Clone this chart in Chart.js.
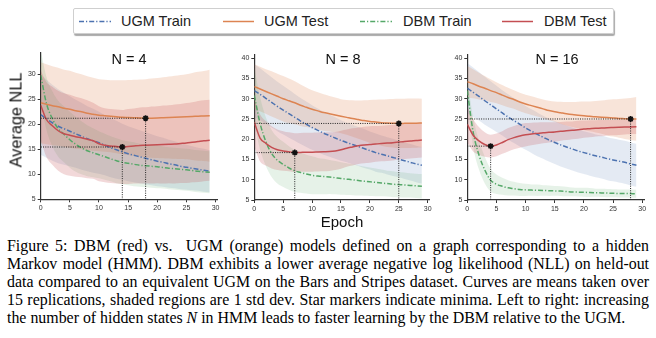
<!DOCTYPE html>
<html>
<head>
<meta charset="utf-8">
<script src="https://cdn.jsdelivr.net/npm/chart.js@4.4.0/dist/chart.umd.min.js"></script>
<style>
  body { margin: 0; width: 656px; height: 338px; background: #fff; position: relative; overflow: hidden; font-family: 'Liberation Sans', Arial, sans-serif; }
  canvas { position: absolute; }
  .legend { position: absolute; left: 73px; top: 8px; width: 539px; height: 24px; border: 1px solid #cfcfcf; border-radius: 2px; box-shadow: 1px 2px 1px #a9a9a9; }
  .lg { position: absolute; top: 0; height: 24px; line-height: 24px; font-size: 14.5px; color: #222; white-space: nowrap; }
  .sw { position: absolute; top: 11px; }
  .ttl { position: absolute; width: 100px; text-align: center; font-size: 14.5px; color: #111; top: 51px; }
  .axt { position: absolute; color: #111; white-space: nowrap; }
  .cap { position: absolute; left: 7px; width: 642px; font-family: 'Liberation Serif', 'Times New Roman', serif; font-size: 15.9px; color: #000; }
  .cap div { height: 18px; line-height: 18px; text-align: justify; text-align-last: justify; }
  .cap div.last { text-align-last: left; white-space: nowrap; }
</style>
</head>
<body>

<div class="legend">
  <svg class="sw" style="left:5px" width="32" height="3"><line x1="0" y1="1.5" x2="32" y2="1.5" stroke="#4c72b0" stroke-width="1.5" stroke-dasharray="5 2 1.2 2"/></svg>
  <span class="lg" style="left:47px">UGM Train</span>
  <svg class="sw" style="left:149px" width="31" height="3"><line x1="0" y1="1.5" x2="31" y2="1.5" stroke="#dd8452" stroke-width="1.5"/></svg>
  <span class="lg" style="left:190px">UGM Test</span>
  <svg class="sw" style="left:286px" width="32" height="3"><line x1="0" y1="1.5" x2="32" y2="1.5" stroke="#55a868" stroke-width="1.5" stroke-dasharray="5 2 1.2 2"/></svg>
  <span class="lg" style="left:329px">DBM Train</span>
  <svg class="sw" style="left:428px" width="31" height="3"><line x1="0" y1="1.5" x2="31" y2="1.5" stroke="#c44e52" stroke-width="1.5"/></svg>
  <span class="lg" style="left:470px">DBM Test</span>
</div>

<canvas id="c4" width="225" height="180" style="left:0;top:40px"></canvas>
<canvas id="c8" width="220" height="180" style="left:215px;top:40px"></canvas>
<canvas id="c16" width="220" height="180" style="left:430px;top:40px"></canvas>

<div class="ttl" style="left:79px">N = 4</div>
<div class="ttl" style="left:293px">N = 8</div>
<div class="ttl" style="left:507px">N = 16</div>

<div class="axt" style="left:15.5px;top:120px;font-size:16.3px;transform:translate(-50%,-50%) rotate(-90deg)">Average NLL</div>
<div class="axt" style="left:342px;top:221px;font-size:15px;transform:translate(-50%,-50%)">Epoch</div>

<div class="cap" style="top:237px">
  <div>Figure 5: DBM (red) vs.&nbsp; UGM (orange) models defined on a graph corresponding to a hidden</div>
  <div>Markov model (HMM). DBM exhibits a lower average negative log likelihood (NLL) on held-out</div>
  <div>data compared to an equivalent UGM on the Bars and Stripes dataset. Curves are means taken over</div>
  <div>15 replications, shaded regions are 1 std dev. Star markers indicate minima. Left to right: increasing</div>
  <div class="last">the number of hidden states <i>N</i> in HMM leads to faster learning by the DBM relative to the UGM.</div>
</div>

<script>
const epochs = [0,1,2,3,4,5,6,7,8,9,10,11,12,13,14,15,16,17,18,19,20,21,22,23,24,25,26,27,28,29];
const xTicks = [0,5,10,15,20,25,30];
const yTicksN4 = [5,10,15,20,25,30];
const yTicksWide = [5,10,15,20,25,30,35,40];

// N = 4
const n4UgmTrain = [21.9,21.1,20.3,19.6,19.1,18.6,18.1,17.6,17.1,16.7,16.3,15.8,15.3,14.9,14.5,14.1,13.8,13.5,13.2,12.9,12.6,12.4,12.1,11.9,11.6,11.4,11.2,11.0,10.8,10.6];
const n4UgmTrainStd = [8.0,7.8,7.6,7.4,7.2,7.0,6.8,6.7,6.5,6.4,6.2,6.0,5.9,5.8,5.6,5.5,5.4,5.3,5.2,5.1,5.0,4.9,4.8,4.7,4.6,4.5,4.4,4.3,4.3,4.2];
const n4UgmTest = [24.3,24.0,23.7,23.5,23.2,23.0,22.7,22.5,22.2,22.0,21.8,21.7,21.6,21.5,21.4,21.35,21.3,21.25,21.2,21.22,21.25,21.3,21.35,21.4,21.45,21.5,21.55,21.6,21.65,21.7];
const n4UgmTestStd = [8.1,8.0,7.9,7.8,7.7,7.7,7.6,7.5,7.4,7.3,7.2,7.2,7.2,7.3,7.4,7.5,7.6,7.7,7.8,7.9,8.0,8.1,8.2,8.3,8.4,8.5,8.7,8.9,9.0,9.2];
const n4DbmTrain = [29.8,24.1,21.1,19.1,18.0,16.9,16.0,15.3,14.7,14.3,13.9,13.5,13.1,12.7,12.4,12.2,12.0,11.8,11.7,11.6,11.5,11.35,11.2,11.1,11.0,10.9,10.75,10.6,10.5,10.4];
const n4DbmTrainStd = [5.0,5.3,5.5,5.6,5.6,5.6,5.5,5.3,5.1,4.9,4.7,4.6,4.5,4.5,4.4,4.4,4.4,4.3,4.3,4.3,4.3,4.2,4.2,4.2,4.2,4.2,4.2,4.2,4.2,4.2];
const n4DbmTest = [23.8,20.9,19.7,18.7,18.1,17.8,17.5,17.3,17.0,16.7,16.1,15.8,15.65,15.55,15.45,15.55,15.65,15.75,15.8,15.85,15.9,15.95,16.0,16.05,16.15,16.25,16.4,16.55,16.7,16.8];
const n4DbmTestStd = [7.0,7.5,7.8,8.0,8.1,8.1,8.0,7.9,7.8,7.6,7.5,7.4,7.4,7.4,7.4,7.5,7.5,7.6,7.6,7.7,7.7,7.8,7.8,7.9,7.9,8.0,8.0,8.1,8.1,8.1];

// N = 8
const n8UgmTrain = [32.0,31.1,30.1,29.1,28.1,27.2,26.3,25.4,24.5,23.7,22.9,22.2,21.5,20.9,20.3,19.7,19.2,18.7,18.2,17.7,17.2,16.7,16.3,15.9,15.5,15.1,14.7,14.3,13.9,13.6];
const n8UgmTrainStd = [6.5,6.4,6.3,6.2,6.1,6.0,5.9,5.8,5.7,5.6,5.5,5.4,5.3,5.2,5.1,5.0,4.9,4.9,4.8,4.8,4.7,4.7,4.6,4.6,4.6,4.5,4.5,4.5,4.5,4.5];
const n8UgmTest = [33.0,32.4,31.8,31.2,30.6,30.0,29.5,29.0,28.4,27.9,27.4,27.0,26.6,26.3,26.0,25.7,25.4,25.1,24.85,24.6,24.4,24.25,24.1,24.0,23.95,23.9,23.92,23.95,23.97,24.0];
const n8UgmTestStd = [5.5,5.5,5.5,5.6,5.6,5.6,5.5,5.3,5.1,4.9,4.7,4.6,4.5,4.4,4.3,4.2,4.3,4.5,4.7,5.0,5.3,5.5,5.7,5.9,6.0,6.1,6.1,6.1,6.1,6.0];
const n8DbmTrain = [30.8,23.9,19.4,16.5,14.8,13.8,12.9,12.2,11.8,11.4,11.1,10.9,10.8,10.7,10.5,10.3,10.15,10.0,9.8,9.65,9.5,9.35,9.2,9.05,8.9,8.8,8.7,8.6,8.5,8.4];
const n8DbmTrainStd = [7.0,6.5,6.0,5.8,5.7,5.6,5.4,5.2,5.0,4.8,4.7,4.5,4.4,4.2,4.1,4.0,3.9,3.8,3.7,3.6,3.5,3.4,3.3,3.2,3.2,3.1,3.1,3.0,3.0,3.0];
const n8DbmTest = [24.2,20.3,19.0,18.0,17.4,17.1,16.9,16.7,16.75,16.8,16.8,16.85,16.9,16.95,17.1,17.4,17.8,18.1,18.4,18.6,18.7,18.85,18.95,19.05,19.15,19.3,19.45,19.55,19.7,19.8];
const n8DbmTestStd = [6.0,5.8,5.5,5.2,5.0,4.9,4.8,4.8,4.8,4.8,4.8,4.8,4.8,4.8,4.7,4.7,4.6,4.6,4.5,4.5,4.5,4.4,4.4,4.4,4.4,4.3,4.3,4.3,4.3,4.3];

// N = 16
const n16UgmTrain = [32.6,31.6,30.6,29.5,28.5,27.5,26.5,25.5,24.6,23.7,22.8,22.0,21.2,20.5,19.8,19.2,18.6,18.1,17.6,17.1,16.7,16.3,15.9,15.6,15.2,14.9,14.6,14.3,13.9,13.6];
const n16UgmTrainStd = [6.2,6.1,6.0,5.9,5.8,5.7,5.6,5.6,5.5,5.5,5.4,5.4,5.4,5.3,5.3,5.3,5.3,5.3,5.3,5.3,5.3,5.3,5.3,5.3,5.3,5.3,5.3,5.3,5.3,5.3];
const n16UgmTest = [34.2,33.7,33.1,32.6,32.0,31.5,30.9,30.3,29.8,29.2,28.7,28.3,27.9,27.5,27.1,26.8,26.55,26.3,26.1,25.95,25.8,25.65,25.55,25.45,25.35,25.25,25.15,25.08,25.0,25.02];
const n16UgmTestStd = [3.9,3.6,3.3,3.0,2.8,2.6,2.5,2.4,2.3,2.3,2.3,2.3,2.3,2.3,2.4,2.5,2.7,2.9,3.1,3.3,3.5,3.7,3.9,4.1,4.4,4.6,4.8,5.0,5.2,5.4];
const n16DbmTrain = [32.0,21.8,16.1,12.4,9.9,8.9,8.4,8.0,7.8,7.6,7.5,7.45,7.4,7.35,7.3,7.25,7.2,7.1,7.0,6.95,6.9,6.85,6.8,6.75,6.7,6.65,6.62,6.6,6.58,6.56];
const n16DbmTrainStd = [3.0,3.6,3.6,3.3,2.8,2.4,2.1,1.9,1.7,1.6,1.5,1.4,1.4,1.3,1.3,1.2,1.2,1.2,1.1,1.1,1.1,1.1,1.0,1.0,1.0,1.0,1.0,1.0,1.0,1.0];
const n16DbmTest = [23.7,21.0,19.6,18.7,18.3,18.6,19.2,19.9,20.4,20.8,21.1,21.3,21.45,21.6,21.7,21.8,21.95,22.1,22.2,22.35,22.5,22.6,22.7,22.75,22.85,22.9,22.95,23.0,23.05,23.1];
const n16DbmTestStd = [4.5,4.0,3.4,3.0,2.8,2.8,2.8,2.9,2.9,2.9,2.9,2.8,2.7,2.6,2.5,2.4,2.3,2.3,2.2,2.2,2.1,2.1,2.0,2.0,1.9,1.9,1.9,1.8,1.8,1.8];

const colors = { ugmTrain: '#4c72b0', ugmTest: '#dd8452', dbmTrain: '#55a868', dbmTest: '#c44e52' };
const bandFill = { ugmTrain: 'rgba(76,114,176,0.15)', ugmTest: 'rgba(221,132,82,0.22)', dbmTrain: 'rgba(85,168,104,0.15)', dbmTest: 'rgba(196,78,82,0.22)' };
const dashDot = [5, 2, 1.2, 2];

const pts = (ys) => epochs.map((e, i) => ({ x: e, y: ys[i] }));
const argmin = (a) => a.reduce((k, v, i) => (v < a[k] ? i : k), 0);

function band(mean, std, fill) {
    return [
        { data: pts(mean.map((m, i) => m + std[i])), borderWidth: 0, pointRadius: 0, fill: false },
        { data: pts(mean.map((m, i) => m - std[i])), borderWidth: 0, pointRadius: 0, fill: '-1', backgroundColor: fill }
    ];
}

function minMarks(mean, yMin) {
    const k = argmin(mean);
    const e = epochs[k], v = mean[k];
    return [
        { data: [{ x: e, y: v }], pointStyle: 'star', pointRadius: 3, pointBorderWidth: 1.6, pointBorderColor: '#111', pointBackgroundColor: '#111', showLine: false },
        { data: [{ x: 0, y: v }, { x: e, y: v }, { x: e, y: yMin }], borderColor: '#222', borderWidth: 1, borderDash: [1, 1.3], pointRadius: 0, tension: 0, cubicInterpolationMode: 'default' }
    ];
}

function line(mean, color, dash) {
    return { data: pts(mean), borderColor: color, borderWidth: 1.5, borderDash: dash || [], pointRadius: 0, fill: false };
}

function makePanel(id, geo, yMax, yTicks, s) {
    const yMin = yTicks[0];
    const datasets = [
        ...minMarks(s.ugmTest, yMin),
        ...minMarks(s.dbmTest, yMin),
        line(s.dbmTest, colors.dbmTest),
        line(s.dbmTrain, colors.dbmTrain, dashDot),
        line(s.ugmTest, colors.ugmTest),
        line(s.ugmTrain, colors.ugmTrain, dashDot),
        ...band(s.dbmTest, s.dbmTestStd, bandFill.dbmTest),
        ...band(s.dbmTrain, s.dbmTrainStd, bandFill.dbmTrain),
        ...band(s.ugmTest, s.ugmTestStd, bandFill.ugmTest),
        ...band(s.ugmTrain, s.ugmTrainStd, bandFill.ugmTrain)
    ];
    const axis = (ticks) => ({
        grid: { drawOnChartArea: false, tickLength: 3, color: '#333', lineWidth: 1 },
        border: { color: '#333', width: 1.2 },
        ticks: { font: { size: 7 }, color: '#333', padding: 2, autoSkip: false, maxRotation: 0 },
        afterBuildTicks: (sc) => { sc.ticks = ticks.map(v => ({ value: v })); }
    });
    new Chart(document.getElementById(id), {
        type: 'line',
        data: { datasets },
        options: {
            responsive: false,
            animation: false,
            devicePixelRatio: 1,
            layout: { padding: { top: geo.pt, right: geo.pr, left: 0, bottom: 0 } },
            elements: { line: { cubicInterpolationMode: 'monotone' } },
            plugins: { legend: { display: false }, tooltip: { enabled: false } },
            scales: {
                x: { type: 'linear', min: 0, max: 30.3, ...axis(xTicks), afterFit: (sc) => { sc.height = geo.xh; } },
                y: { type: 'linear', min: yMin, max: yMax, ...axis(yTicks), afterFit: (sc) => { sc.width = geo.yw; } }
            }
        }
    });
}

Chart.defaults.font.family = "'Liberation Sans', Arial, sans-serif";

makePanel('c4', { yw: 40.7, xh: 20.7, pt: 12.7, pr: 7.7 }, 34.3, yTicksN4, {
    ugmTrain: n4UgmTrain, ugmTrainStd: n4UgmTrainStd, ugmTest: n4UgmTest, ugmTestStd: n4UgmTestStd,
    dbmTrain: n4DbmTrain, dbmTrainStd: n4DbmTrainStd, dbmTest: n4DbmTest, dbmTestStd: n4DbmTestStd
});
makePanel('c8', { yw: 39.3, xh: 20, pt: 15, pr: 5 }, 40.8, yTicksWide, {
    ugmTrain: n8UgmTrain, ugmTrainStd: n8UgmTrainStd, ugmTest: n8UgmTest, ugmTestStd: n8UgmTestStd,
    dbmTrain: n8DbmTrain, dbmTrainStd: n8DbmTrainStd, dbmTest: n8DbmTest, dbmTestStd: n8DbmTestStd
});
makePanel('c16', { yw: 37.3, xh: 20, pt: 15, pr: 6 }, 40.8, yTicksWide, {
    ugmTrain: n16UgmTrain, ugmTrainStd: n16UgmTrainStd, ugmTest: n16UgmTest, ugmTestStd: n16UgmTestStd,
    dbmTrain: n16DbmTrain, dbmTrainStd: n16DbmTrainStd, dbmTest: n16DbmTest, dbmTestStd: n16DbmTestStd
});
</script>
</body>
</html>
